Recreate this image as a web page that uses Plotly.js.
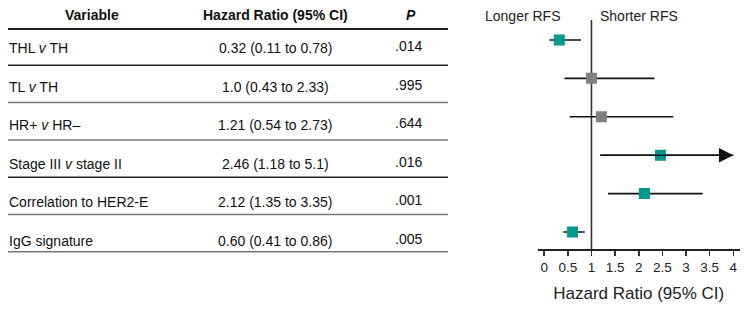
<!DOCTYPE html>
<html>
<head>
<meta charset="utf-8">
<script src="https://cdn.plot.ly/plotly-3.0.1.min.js"></script>
<style>
  html, body { margin: 0; padding: 0; background: #fff; }
  #chart { width: 746px; height: 313px; }
</style>
</head>
<body>
<div id="chart"></div>
<script>
// Cox model results, one entry per variable (top to bottom)
const variables = ['THL <i>v</i> TH', 'TL <i>v</i> TH', 'HR+ <i>v</i> HR\u2013',
                   'Stage III <i>v</i> stage II', 'Correlation to HER2-E', 'IgG signature'];
const hrStr  = ['0.32', '1.0', '1.21', '2.46', '2.12', '0.60'];
const loStr  = ['0.11', '0.43', '0.54', '1.18', '1.35', '0.41'];
const hiStr  = ['0.78', '2.33', '2.73', '5.1', '3.35', '0.86'];
const pvals  = ['.014', '.995', '.644', '.016', '.001', '.005'];
const xTicks = [0, 0.5, 1, 1.5, 2, 2.5, 3, 3.5, 4];

const W = 746, H = 313;
const px = v => v / W;            // pixel -> paper x
const py = v => 1 - v / H;        // pixel -> paper y

const n = variables.length;
const hr = hrStr.map(Number), lo = loStr.map(Number), hi = hiStr.map(Number);
const rowY = variables.map((_, i) => n - i);   // top row highest
const xMax = 4;

const TEAL = '#00998c', GREY = '#808080';
const colors = pvals.map(p => Number(p) < 0.05 ? TEAL : GREY);

const traces = [];
const annotations = [];
const shapes = [];

// whiskers (clipped at the axis end; an arrow marks values beyond it)
for (let i = 0; i < n; i++) {
  const end = Math.min(hi[i], xMax);
  traces.push({
    x: [lo[i], end], y: [rowY[i], rowY[i]],
    mode: 'lines', type: 'scatter', hoverinfo: 'skip',
    line: { color: '#111', width: 1.6 }, showlegend: false
  });
  if (hi[i] > xMax) {
    annotations.push({
      x: end, y: rowY[i], ax: lo[i], ay: rowY[i],
      xref: 'x', yref: 'y', axref: 'x', ayref: 'y',
      text: '', showarrow: true, arrowhead: 2, arrowsize: 1.8,
      arrowwidth: 1.6, arrowcolor: '#111'
    });
  }
}

// point estimates
traces.push({
  x: hr, y: rowY, mode: 'markers', type: 'scatter',
  marker: { symbol: 'square', size: 11, color: colors, line: { width: 0 } },
  showlegend: false, hoverinfo: 'x'
});

// reference line at HR = 1
shapes.push({
  type: 'line', xref: 'x', yref: 'y domain', x0: 1, x1: 1, y0: 0, y1: 1,
  line: { color: '#333', width: 1.6 }, layer: 'below'
});

// table: header
const tf = { family: 'Liberation Sans, Arial, sans-serif', color: '#111' };
const headFont = Object.assign({ size: 14 }, tf);
[['<b>Variable</b>', 92], ['<b>Hazard Ratio (95% CI)</b>', 275], ['<b><i>P</i></b>', 411]]
  .forEach(([t, x]) => annotations.push({
    text: t, x: px(x), y: py(15), xref: 'paper', yref: 'paper',
    xanchor: 'center', yanchor: 'middle', showarrow: false, font: headFont
  }));
shapes.push({ type: 'line', xref: 'paper', yref: 'paper',
  x0: px(8), x1: px(448), y0: py(29), y1: py(29), line: { color: '#222', width: 2 } });

// table: rows
for (let i = 0; i < n; i++) {
  const yText = 48 + i * 38.6;
  const yLine = 65.3 + i * 37.3;
  const common = { xref: 'paper', yref: 'paper', yanchor: 'middle', showarrow: false,
                   font: Object.assign({ size: 14 }, tf) };
  annotations.push(Object.assign({ text: variables[i], x: px(7), y: py(yText), xanchor: 'left' }, common));
  annotations.push(Object.assign({ text: hrStr[i] + ' (' + loStr[i] + ' to ' + hiStr[i] + ')',
                                   x: px(275), y: py(yText), xanchor: 'center' }, common));
  annotations.push(Object.assign({ text: pvals[i], x: px(408), y: py(yText - 2), xanchor: 'center' }, common));
  shapes.push({ type: 'line', xref: 'paper', yref: 'paper',
    x0: px(8), x1: px(448), y0: py(yLine), y1: py(yLine),
    line: { color: (i === 0 || i === 3) ? '#222' : '#777', width: 1.5 } });
}

// direction labels above the forest plot
const dirFont = { family: 'Liberation Sans, Arial, sans-serif', size: 14, color: '#222' };
annotations.push(
  { text: 'Longer RFS', x: px(562), y: py(16), xref: 'paper', yref: 'paper',
    xanchor: 'right', yanchor: 'middle', showarrow: false, font: dirFont },
  { text: 'Shorter RFS', x: px(598), y: py(16), xref: 'paper', yref: 'paper',
    xanchor: 'left', yanchor: 'middle', showarrow: false, font: dirFont }
);

const layout = {
  width: W, height: H,
  margin: { l: 0, r: 0, t: 0, b: 0 },
  paper_bgcolor: '#fff', plot_bgcolor: 'rgba(0,0,0,0)',
  showlegend: false,
  xaxis: {
    domain: [px(538), px(739.5)],
    range: [-0.13, 4.13],
    tickvals: xTicks, ticktext: xTicks.map(String),
    ticks: 'outside', ticklen: 5, tickwidth: 1.5, tickcolor: '#333',
    showline: true, linecolor: '#222', linewidth: 2,
    showgrid: false, zeroline: false,
    tickfont: { family: 'Liberation Sans, Arial, sans-serif', size: 13.5, color: '#222' },
    title: { text: 'Hazard Ratio (95% CI)', standoff: 13,
             font: { family: 'Liberation Sans, Arial, sans-serif', size: 17, color: '#222' } },
    fixedrange: true
  },
  yaxis: {
    domain: [py(249), py(20)],
    range: [0.557, 6.52],
    visible: false, fixedrange: true
  },
  shapes: shapes,
  annotations: annotations
};

Plotly.newPlot('chart', traces, layout, { displayModeBar: false, staticPlot: true });
</script>
</body>
</html>
